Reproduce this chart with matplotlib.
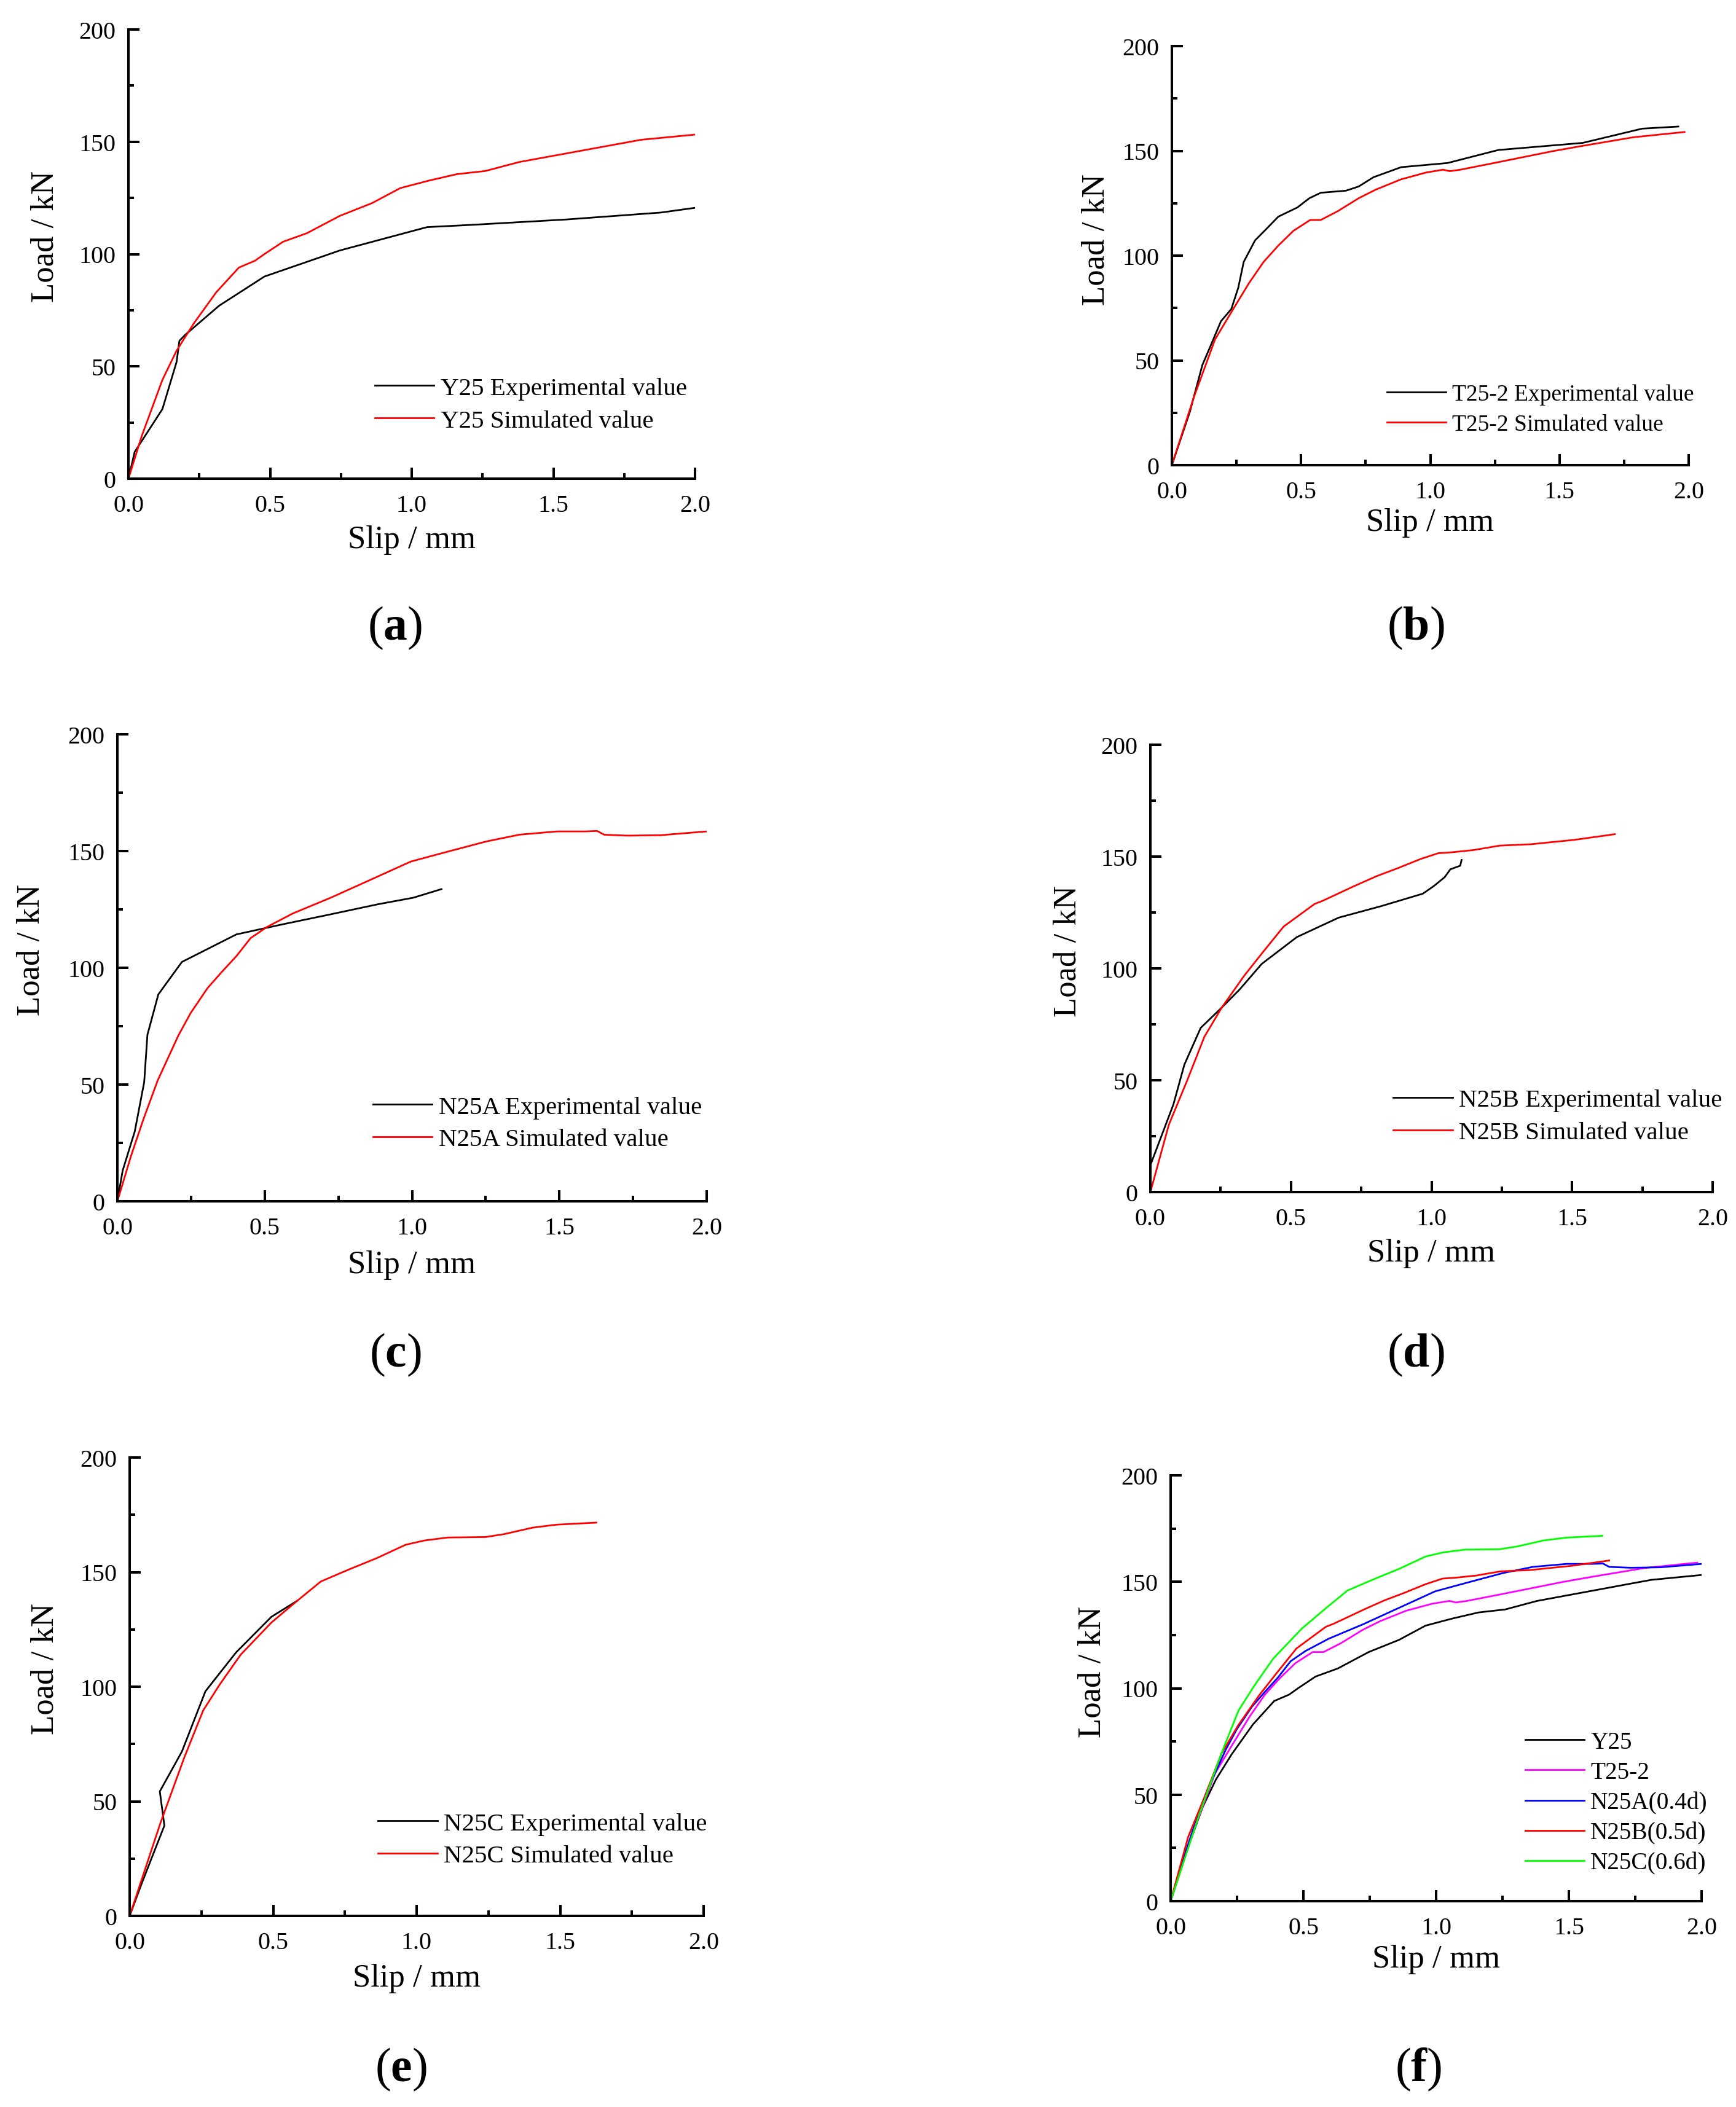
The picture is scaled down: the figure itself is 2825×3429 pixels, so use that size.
"""Load-slip curves, six panels (a)-(f), saved as out.png."""
import numpy as np
import matplotlib
matplotlib.use("Agg")
import matplotlib.pyplot as plt
from matplotlib.ticker import MultipleLocator, FormatStrFormatter

plt.rcParams["font.family"] = ["Liberation Serif", "DejaVu Serif"]
plt.rcParams["mathtext.fontset"] = "custom"
plt.rcParams["mathtext.rm"] = "Liberation Serif"
plt.rcParams["mathtext.bf"] = "Liberation Serif:bold"

# ---- data (slip in mm, load in kN) ----
y25_exp_x = [0, 0.022, 0.12, 0.17, 0.18, 0.2, 0.32, 0.48, 0.746, 1.054, 1.21, 1.545, 1.88, 2.0]
y25_exp_y = [0, 11.9, 31, 52, 61.4, 64, 77, 90, 101.6, 112, 113, 115.4, 118.5, 120.6]
y25_sim_x = [0, 0.047, 0.12, 0.17, 0.23, 0.31, 0.39, 0.446, 0.48, 0.546, 0.63, 0.746,
             0.86, 0.96, 1.06, 1.16, 1.26, 1.38, 1.545, 1.71, 1.81, 2.0]
y25_sim_y = [0, 19, 44, 57, 69, 83, 94, 97, 100, 105.5, 109.3, 117,
             122.7, 129.4, 132.7, 135.6, 137, 141, 144.8, 148.6, 150.9, 153.2]

t25_exp_x = [0, 0.069, 0.118, 0.15, 0.19, 0.23, 0.257, 0.278, 0.322, 0.363, 0.412, 0.486,
             0.532, 0.576, 0.674, 0.723, 0.78, 0.887, 1.067, 1.263, 1.59, 1.82, 1.96]
t25_exp_y = [0, 25.2, 47.8, 57, 68.7, 74.5, 84.7, 97, 107.3, 112.4, 118.6, 123,
             127.4, 130, 131, 133, 137.4, 142.2, 144.2, 150.4, 153.8, 160.6, 161.6]
t25_sim_x = [0, 0.085, 0.167, 0.232, 0.298, 0.355, 0.412, 0.47, 0.535, 0.576, 0.642, 0.723,
             0.789, 0.887, 0.985, 1.05, 1.075, 1.116, 1.263, 1.476, 1.59, 1.787, 1.984]
t25_sim_y = [0, 32.4, 60, 73.4, 86.8, 97, 104.8, 111.8, 117, 117, 121.2, 127.4,
             131.5, 136.4, 139.7, 141, 140.3, 141, 144.6, 149.9, 152.4, 156.5, 159]

n25a_exp_x = [0, 0.018, 0.059, 0.091, 0.102, 0.139, 0.219, 0.404, 0.564, 0.724, 0.884, 1.004, 1.1]
n25a_exp_y = [0, 13.2, 29.9, 51, 71.3, 88.6, 102.5, 114.3, 118.7, 122.9, 127.2, 130, 133.7]
n25a_sim_x = [0, 0.046, 0.088, 0.137, 0.207, 0.249, 0.306, 0.355, 0.404, 0.452, 0.508, 0.596,
              0.724, 0.868, 0.996, 1.108, 1.252, 1.364, 1.492, 1.588, 1.628, 1.652, 1.732,
              1.845, 2.0]
n25a_sim_y = [0, 19.3, 35, 51.8, 71, 80.7, 91.3, 98.3, 105, 112.7, 117.5, 123.3,
              130, 138.2, 145.5, 149.3, 154.1, 157, 158.4, 158.4, 158.6, 157, 156.6,
              156.8, 158.4]

n25b_exp_x = [0.003, 0.082, 0.121, 0.179, 0.254, 0.317, 0.396, 0.521, 0.67, 0.82, 0.969,
              1.008, 1.047, 1.067, 1.102, 1.107]
n25b_exp_y = [13, 39.2, 57, 73.4, 82.5, 90.5, 102, 114, 122.7, 127.8, 133.4,
              136.8, 140.8, 144.3, 145.9, 148.5]
n25b_sim_x = [0, 0.066, 0.129, 0.192, 0.254, 0.333, 0.396, 0.474, 0.584, 0.616, 0.725, 0.804,
              0.882, 0.961, 1.024, 1.071, 1.149, 1.243, 1.353, 1.51, 1.652]
n25b_sim_y = [0, 30.2, 49.3, 69.4, 82.5, 96.6, 106.6, 118.7, 128.8, 130.4, 136.8, 141.2,
              144.9, 148.9, 151.5, 151.9, 152.9, 154.9, 155.5, 157.5, 160]

n25c_exp_x = [0, 0.043, 0.121, 0.105, 0.182, 0.264, 0.371, 0.494, 0.584]
n25c_exp_y = [0, 14.5, 39.4, 54.3, 71.7, 98, 115, 130.5, 137.5]
n25c_sim_x = [0, 0.043, 0.108, 0.19, 0.256, 0.313, 0.387, 0.494, 0.584, 0.666, 0.765, 0.863,
              0.961, 1.027, 1.109, 1.24, 1.306, 1.404, 1.487, 1.626]
n25c_sim_y = [0, 16.3, 40.8, 69, 89.6, 100.8, 114, 128, 137.5, 145.9, 151.2, 156.2,
              161.9, 163.8, 165.1, 165.3, 166.6, 169.4, 170.7, 171.6]

pair_names = ["Y25", "T25-2", "N25A", "N25B", "N25C"]
compare_labels = ["Y25", "T25-2", "N25A(0.4d)", "N25B(0.5d)", "N25C(0.6d)"]
compare_colors = ["black", "#FF00FF", "#0000FF", "#FF0000", "#00FF00"]
panel_letters = ["a", "b", "c", "d", "e", "f"]

# axes boxes in pixels of the 2825x3430 figure: left, top, right, bottom
W, H = 2825, 3430
boxes = [(209, 49, 1131, 780), (1907, 76, 2748, 758),
         (191, 1196, 1150, 1956), (1872, 1213, 2787, 1941),
         (211, 2373, 1145, 3119), (1905, 2402, 2769, 3095)]
legend_anchor = [(0.435, 0.165), (0.416, 0.133), (0.434, 0.167),
                 (0.432, 0.169), (0.433, 0.166), (0.668, 0.231)]
legend_size = [29.5, 27, 29.5, 29.5, 29.5, 28.3]
caption_xy = [(643, 1022), (2304, 1022), (643, 2205), (2304, 2205), (652, 3368), (2308, 3368)]

LW = 2.0


def style_axes(ax):
    ax.set_xlim(0, 2.0)
    ax.set_ylim(0, 200)
    ax.xaxis.set_major_locator(MultipleLocator(0.5))
    ax.xaxis.set_minor_locator(MultipleLocator(0.25))
    ax.xaxis.set_major_formatter(FormatStrFormatter("%.1f"))
    ax.yaxis.set_major_locator(MultipleLocator(50))
    ax.yaxis.set_minor_locator(MultipleLocator(25))
    for s in ["top", "right"]:
        ax.spines[s].set_visible(False)
    for s in ["left", "bottom"]:
        ax.spines[s].set_linewidth(2.9)
    ax.tick_params(which="both", direction="in", width=2.9, labelsize=28.8)
    ax.tick_params(which="major", length=13)
    ax.tick_params(which="minor", length=6.5)
    ax.tick_params(axis="x", which="major", pad=18)
    ax.tick_params(axis="y", which="major", pad=15)
    ax.set_xlabel("Slip / mm", fontsize=38, va="center")
    ax.set_ylabel("Load / kN", fontsize=38, va="center")
    ax.xaxis.set_label_coords(0.5, -0.136)
    ax.yaxis.set_label_coords(-0.147, 0.54)


def add_legend(ax, anchor, size, spacing):
    ax.legend(loc="center left", bbox_to_anchor=anchor, frameon=False,
              fontsize=size, borderpad=0, borderaxespad=0, handlelength=2.35 * 29.5 / size,
              handletextpad=0.25, labelspacing=spacing)


fig = plt.figure(figsize=(W / 100, H / 100), dpi=100)
axes = []
for (l, t, r, b) in boxes:
    axes.append(fig.add_axes([l / W, 1 - b / H, (r - l) / W, (b - t) / H]))

pairs = [(y25_exp_x, y25_exp_y, y25_sim_x, y25_sim_y),
         (t25_exp_x, t25_exp_y, t25_sim_x, t25_sim_y),
         (n25a_exp_x, n25a_exp_y, n25a_sim_x, n25a_sim_y),
         (n25b_exp_x, n25b_exp_y, n25b_sim_x, n25b_sim_y),
         (n25c_exp_x, n25c_exp_y, n25c_sim_x, n25c_sim_y)]

for i, (ex, ey, sx, sy) in enumerate(pairs):
    ax = axes[i]
    ax.plot(ex, ey, color="black", lw=LW, label=f"{pair_names[i]} Experimental value")
    ax.plot(sx, sy, color="#FF0000", lw=LW, label=f"{pair_names[i]} Simulated value")
    style_axes(ax)
    add_legend(ax, legend_anchor[i], legend_size[i], 0.37)

# (f): the simulated curves together
ax = axes[5]
for (ex, ey, sx, sy), lab, c in zip(pairs, compare_labels, compare_colors):
    ax.plot(sx, sy, color=c, lw=LW, label=lab)
style_axes(ax)
add_legend(ax, legend_anchor[5], legend_size[5], 0.31)

for letter, (cx, cy) in zip(panel_letters, caption_xy):
    fig.text(cx / W, 1 - cy / H, r"($\mathbf{%s}$)" % letter, fontsize=56,
             ha="center", va="center")

fig.savefig("out.png", dpi=100)
